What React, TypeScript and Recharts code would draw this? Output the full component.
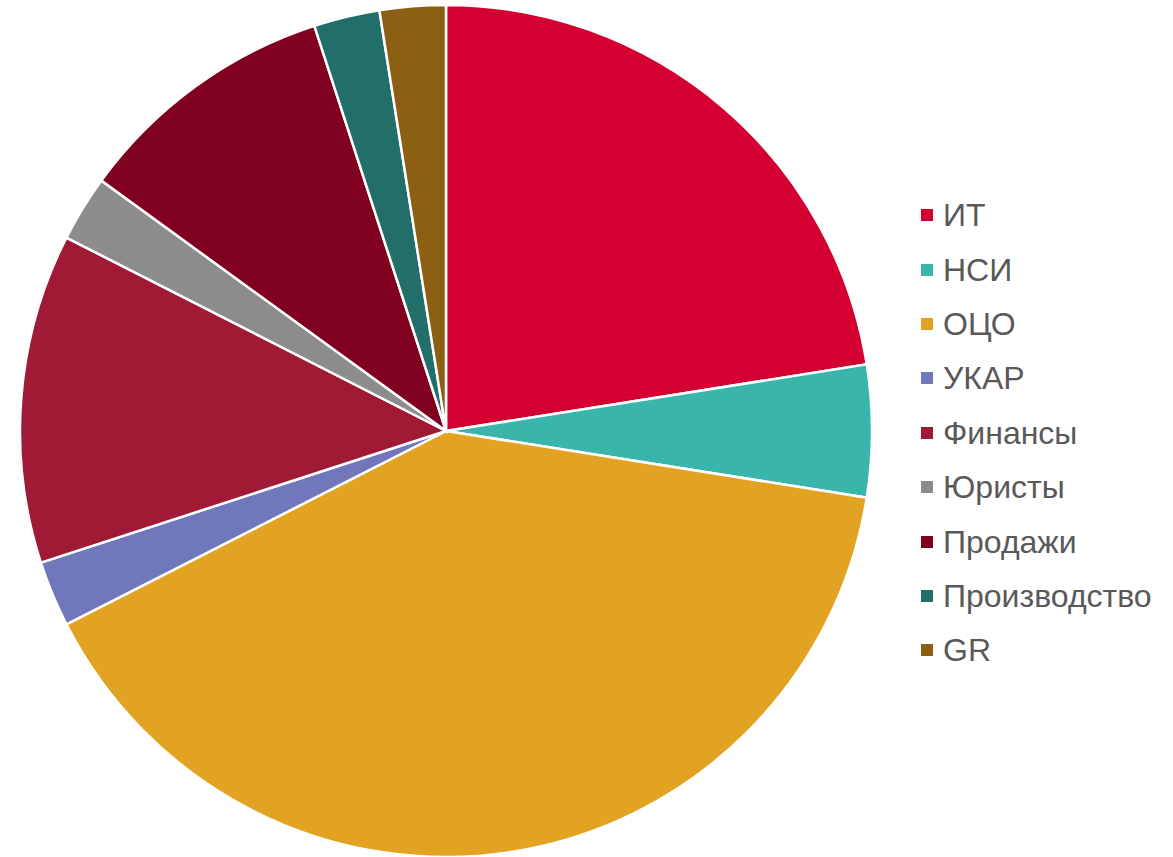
import React from 'react';
import { PieChart, Pie, Cell, Legend } from 'recharts';

const categories = ['ИТ', 'НСИ', 'ОЦО', 'УКАР', 'Финансы', 'Юристы', 'Продажи', 'Производство', 'GR'];
const values = [9, 2, 16, 1, 5, 1, 4, 1, 1];
const colors = ['#D50032', '#3AB5AC', '#E3A322', '#7077BA', '#A01A35', '#8C8C8C', '#800020', '#216F68', '#8B6013'];

const data = categories.map((name, i) => ({ name, value: values[i] }));

const renderLegend = () => (
  <div style={{ fontFamily: 'Arial, "Liberation Sans", sans-serif' }}>
    {categories.map((name, i) => (
      <div key={name} style={{ display: 'flex', alignItems: 'center', height: 54.4 }}>
        <div style={{ width: 12, height: 12, background: colors[i], marginRight: 10 }} />
        <span style={{ fontSize: 32, color: '#595959', lineHeight: '32px' }}>{name}</span>
      </div>
    ))}
  </div>
);

export default function App() {
  return (
    <div style={{ position: 'absolute', left: 0, top: 0, width: 1173, height: 857, background: '#fff' }}>
      <PieChart width={1173} height={857} margin={{ top: 0, right: 0, bottom: 0, left: 0 }}>
        <Pie
          data={data}
          dataKey="value"
          nameKey="name"
          cx={446}
          cy={431}
          outerRadius={426}
          startAngle={90}
          endAngle={-270}
          stroke="#ffffff"
          strokeWidth={2.5}
          isAnimationActive={false}
        >
          {data.map((d, i) => (
            <Cell key={d.name} fill={colors[i]} />
          ))}
        </Pie>
        <Legend
          content={renderLegend}
          wrapperStyle={{ position: 'absolute', left: 921, top: 188, width: 250 }}
        />
      </PieChart>
    </div>
  );
}
